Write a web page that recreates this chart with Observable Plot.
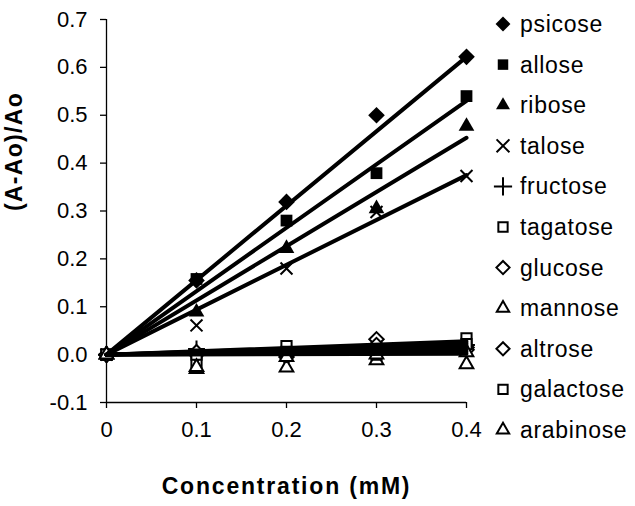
<!DOCTYPE html>
<html><head><meta charset="utf-8">
<script src="https://cdn.jsdelivr.net/npm/d3@7"></script>
<script src="https://cdn.jsdelivr.net/npm/@observablehq/plot@0.6"></script>
<style>
body{margin:0;background:#fff;}
#wrap{position:relative;width:635px;height:506px;font-family:Arial,"Liberation Sans",sans-serif;}
#legend{position:absolute;left:0;top:0;pointer-events:none;}
</style></head><body><div id="wrap"></div>
<script>
// ---- data ----
const concentrations = [0, 0.1, 0.2, 0.3, 0.4];
const sugars = ["psicose","allose","ribose","talose","fructose","tagatose","glucose","mannose","altrose","galactose","arabinose"];
const markerSymbols = ["diamond2","square2","triangle2","times","plus","square2","diamond2","triangle2","diamond2","square2","triangle2"];
const markerStyle = ["filled","filled","filled","line","line","open","open","open","open","open","open"];
const psicose   = [0, 0.155, 0.319, 0.500, 0.622];
const allose    = [0, 0.158, 0.280, 0.379, 0.540];
const ribose    = [0, 0.089, 0.222, 0.305, 0.477];
const talose    = [0, 0.061, 0.180, 0.298, 0.373];
const fructose  = [0, 0.012, 0.005, 0.005, 0.020];
const tagatose  = [0, -0.015, 0.018, 0.010, 0.034];
const glucose   = [0, 0.000, -0.005, 0.032, 0.015];
const mannose   = [0, -0.030, -0.027, -0.012, -0.020];
const altrose   = [0, 0.005, 0.000, 0.020, 0.010];
const galactose = [0, 0.000, 0.006, 0.000, 0.022];
const arabinose = [0, -0.026, -0.005, 0.000, 0.005];
const seriesValues = [psicose, allose, ribose, talose, fructose, tagatose, glucose, mannose, altrose, galactose, arabinose];
// trendline values at 0.4 mM (lines forced through the origin)
const trendEnd = [0.622, 0.530, 0.453, 0.375, 0.024, 0.028, 0.020, 0.002, 0.016, 0.010, 0.006];
const yTicks = [-0.1, 0, 0.1, 0.2, 0.3, 0.4, 0.5, 0.6, 0.7];
const xTicks = [0, 0.1, 0.2, 0.3, 0.4];

// ---- tables ----
const points = [];
sugars.forEach((s, i) => concentrations.forEach((c, j) =>
  points.push({sugar: s, style: markerStyle[i], x: c, y: seriesValues[i][j]})));
const trend = [];
sugars.forEach((s, i) => {
  trend.push({sugar: s, x: concentrations[0], y: 0});
  trend.push({sugar: s, x: concentrations[concentrations.length - 1], y: trendEnd[i]});
});

const W = 635, H = 506;
const FONT = "Arial, 'Liberation Sans', sans-serif";
const plot = Plot.plot({
  width: W, height: H,
  marginLeft: 106, marginRight: 169, marginTop: 19, marginBottom: 104,
  style: {fontFamily: FONT, fontSize: "22px", color: "#000", background: "#fff"},
  x: {domain: [0, 0.4]},
  y: {domain: [-0.1, 0.7]},
  symbol: {domain: sugars, range: markerSymbols},
  marks: [
    Plot.axisY({ticks: yTicks, tickSize: 6, tickPadding: 13, tickFormat: d => d.toFixed(1), label: null, fontSize: 22, strokeWidth: 1.3}),
    Plot.axisX({ticks: xTicks, tickSize: 6, tickPadding: 13, tickFormat: d => d === 0 ? "0" : d.toFixed(1), label: null, fontSize: 22, strokeWidth: 1.3}),
    Plot.ruleX([0], {stroke: "#000", strokeWidth: 1.3}),
    Plot.ruleY([-0.1], {stroke: "#000", strokeWidth: 1.3}),
    Plot.dot(points.filter(d => d.style === "filled"), {x: "x", y: "y", symbol: "sugar", r: 7.5, fill: "#000", stroke: "none"}),
    Plot.dot(points.filter(d => d.style === "line"), {x: "x", y: "y", symbol: "sugar", r: 5.5, fill: "none", stroke: "#000", strokeWidth: 2}),
    Plot.dot(points.filter(d => d.style === "open"), {x: "x", y: "y", symbol: "sugar", r: 6.5, fill: "#fff", stroke: "#000", strokeWidth: 2}),
    Plot.line(trend, {x: "x", y: "y", z: "sugar", stroke: "#000", strokeWidth: 4}),
    Plot.text(["(A-Ao)/Ao"], {frameAnchor: "left", rotate: -90, dx: -92, fontWeight: "bold", fontSize: 23}),
    Plot.text(["Concentration (mM)"], {frameAnchor: "bottom", dy: 91, fontWeight: "bold", fontSize: 23})
  ]
});
const wrap = document.getElementById("wrap");
wrap.appendChild(plot);
d3.select(plot).selectAll("text").filter(function() { return this.textContent === "(A-Ao)/Ao" || this.textContent === "Concentration (mM)"; })
  .style("letter-spacing", function() { return this.textContent === "(A-Ao)/Ao" ? "1.3px" : "1.8px"; });

// ---- legend ----
const symMap = {diamond2: d3.symbolDiamond2, square2: d3.symbolSquare2, triangle2: d3.symbolTriangle2, times: d3.symbolTimes, plus: d3.symbolPlus};
const leg = d3.select(wrap).append("svg").attr("id", "legend").attr("width", W).attr("height", H);
const g = leg.selectAll("g").data(sugars).join("g")
  .attr("transform", (d, i) => `translate(503,${24 + i * 40.6})`);
g.append("path")
  .attr("d", (d, i) => d3.symbol(symMap[markerSymbols[i]], markerStyle[i] === "open" ? 110 : markerStyle[i] === "line" ? 110 : 140)())
  .attr("fill", (d, i) => markerStyle[i] === "filled" ? "#000" : markerStyle[i] === "open" ? "#fff" : "none")
  .attr("stroke", (d, i) => markerStyle[i] === "filled" ? "none" : "#000")
  .attr("stroke-width", 2);
g.append("text").attr("x", 17).attr("dy", "0.35em")
  .attr("font-size", 23).attr("font-family", FONT).style("letter-spacing", "0.7px")
  .text(d => d);
</script></body></html>
